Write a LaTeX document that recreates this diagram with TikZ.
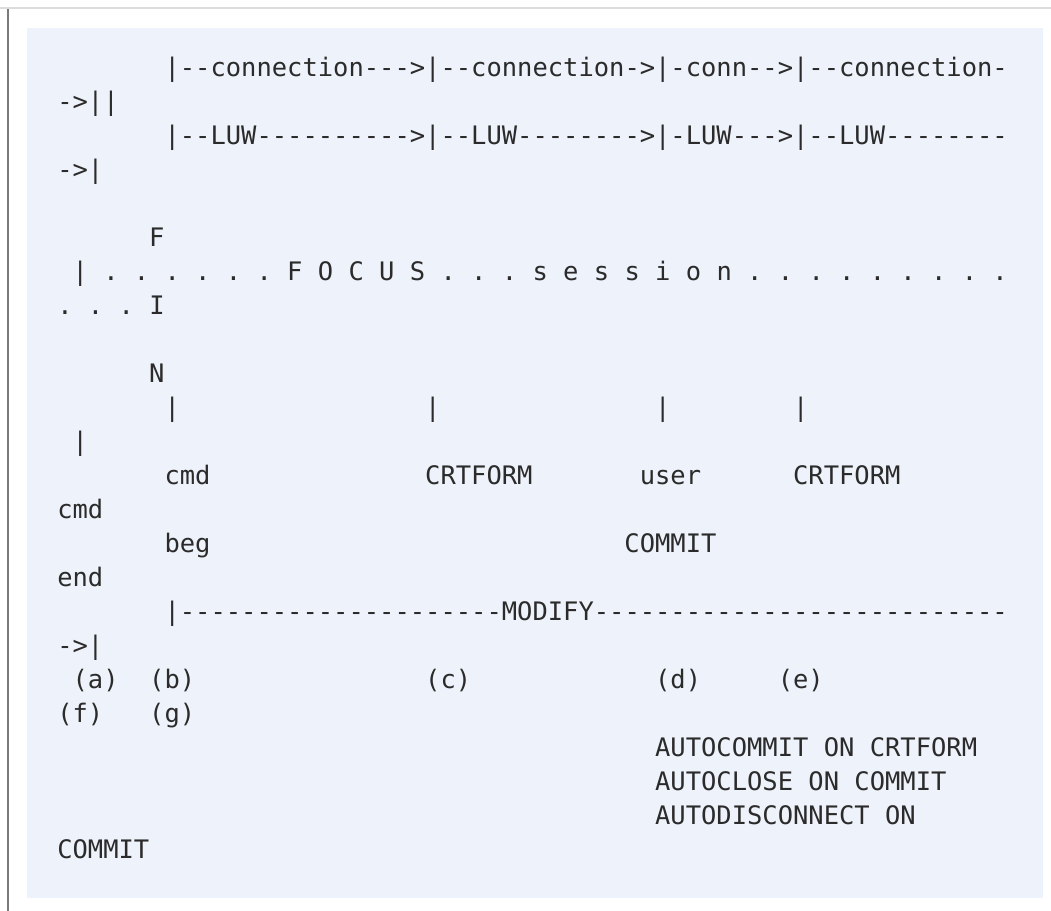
\documentclass[tikz,border=0pt]{standalone}
\usepackage{fontspec}
\setmonofont{DejaVu Sans Mono}
\usepackage{tikz}
\usetikzlibrary{positioning}

\definecolor{codebg}{HTML}{EEF2FA}
\definecolor{codetext}{HTML}{2B2B2B}
\definecolor{leftrule}{HTML}{7A7A7A}
\definecolor{toprule}{HTML}{DCDCDC}

% column / row of the monospaced grid (in px)
\newcommand{\cx}[1]{57+#1*15.33}
\newcommand{\ry}[1]{76.5+#1*34}

\tikzset{
  tok/.style={font=\ttfamily\frenchspacing\fontsize{19.1}{25.5}\selectfont,
    text=codetext, anchor=base west, inner sep=0pt}
}

\begin{document}
\begin{tikzpicture}[x=0.75pt,y=-0.75pt]
        \useasboundingbox (0,0) rectangle (1051,911);

        % Frame of the block
        \fill[codebg] (27,28) rectangle (1043,898);
        \draw[toprule, line width=1.5pt] (0,8.3) -- (1051,8.3);
        \draw[leftrule, line width=1.3pt] (8.2,9) -- (8.2,911);

        % Connection and LUW bars
        \node[tok] (conn) at ({\cx{7}},{\ry{0}}) {|--connection--->|--connection->|-conn-->|--connection-};
        \node[tok] (connend) at ({\cx{0}},{\ry{1}}) {->||};
        \node[tok] (luw) at ({\cx{7}},{\ry{2}}) {|--LUW---------->|--LUW-------->|-LUW--->|--LUW--------};
        \node[tok] (luwend) at ({\cx{0}},{\ry{3}}) {->|};

        % FOCUS session line
        \node[tok] (finF) at ({\cx{6}},{\ry{5}}) {F};
        \node[tok] (focus) at ({\cx{1}},{\ry{6}}) {| . . . . . . F O C U S . . . s e s s i o n . . . . . . . . .};
        \node[tok] (finI) at ({\cx{0}},{\ry{7}}) {. . . I};
        \node[tok] (finN) at ({\cx{6}},{\ry{9}}) {N};

        % Event ticks
        \node[tok] (tickb) at ({\cx{7}},{\ry{10}}) {|};
        \node[tok] (tickc) at ({\cx{24}},{\ry{10}}) {|};
        \node[tok] (tickd) at ({\cx{39}},{\ry{10}}) {|};
        \node[tok] (ticke) at ({\cx{48}},{\ry{10}}) {|};
        \node[tok] (tickf) at ({\cx{1}},{\ry{11}}) {|};

        % Event names
        \node[tok] (cmdbeg) at ({\cx{7}},{\ry{12}}) {cmd};
        \node[tok] (crtone) at ({\cx{24}},{\ry{12}}) {CRTFORM};
        \node[tok] (user) at ({\cx{38}},{\ry{12}}) {user};
        \node[tok] (crttwo) at ({\cx{48}},{\ry{12}}) {CRTFORM};
        \node[tok] (cmdend) at ({\cx{0}},{\ry{13}}) {cmd};
        \node[tok] (beg) at ({\cx{7}},{\ry{14}}) {beg};
        \node[tok] (commit) at ({\cx{37}},{\ry{14}}) {COMMIT};
        \node[tok] (end) at ({\cx{0}},{\ry{15}}) {end};

        % MODIFY span
        \node[tok] (modify) at ({\cx{7}},{\ry{16}}) {|---------------------MODIFY---------------------------};
        \node[tok] (modend) at ({\cx{0}},{\ry{17}}) {->|};

        % Point labels
        \node[tok] (pa) at ({\cx{1}},{\ry{18}}) {(a)};
        \node[tok] (pb) at ({\cx{6}},{\ry{18}}) {(b)};
        \node[tok] (pc) at ({\cx{24}},{\ry{18}}) {(c)};
        \node[tok] (pd) at ({\cx{39}},{\ry{18}}) {(d)};
        \node[tok] (pe) at ({\cx{47}},{\ry{18}}) {(e)};
        \node[tok] (pf) at ({\cx{0}},{\ry{19}}) {(f)};
        \node[tok] (pg) at ({\cx{6}},{\ry{19}}) {(g)};

        % Settings
        \node[tok] (autocommit) at ({\cx{39}},{\ry{20}}) {AUTOCOMMIT ON CRTFORM};
        \node[tok] (autoclose) at ({\cx{39}},{\ry{21}}) {AUTOCLOSE ON COMMIT};
        \node[tok] (autodisc) at ({\cx{39}},{\ry{22}}) {AUTODISCONNECT ON};
        \node[tok] (autodiscend) at ({\cx{0}},{\ry{23}}) {COMMIT};
\end{tikzpicture}
\end{document}
